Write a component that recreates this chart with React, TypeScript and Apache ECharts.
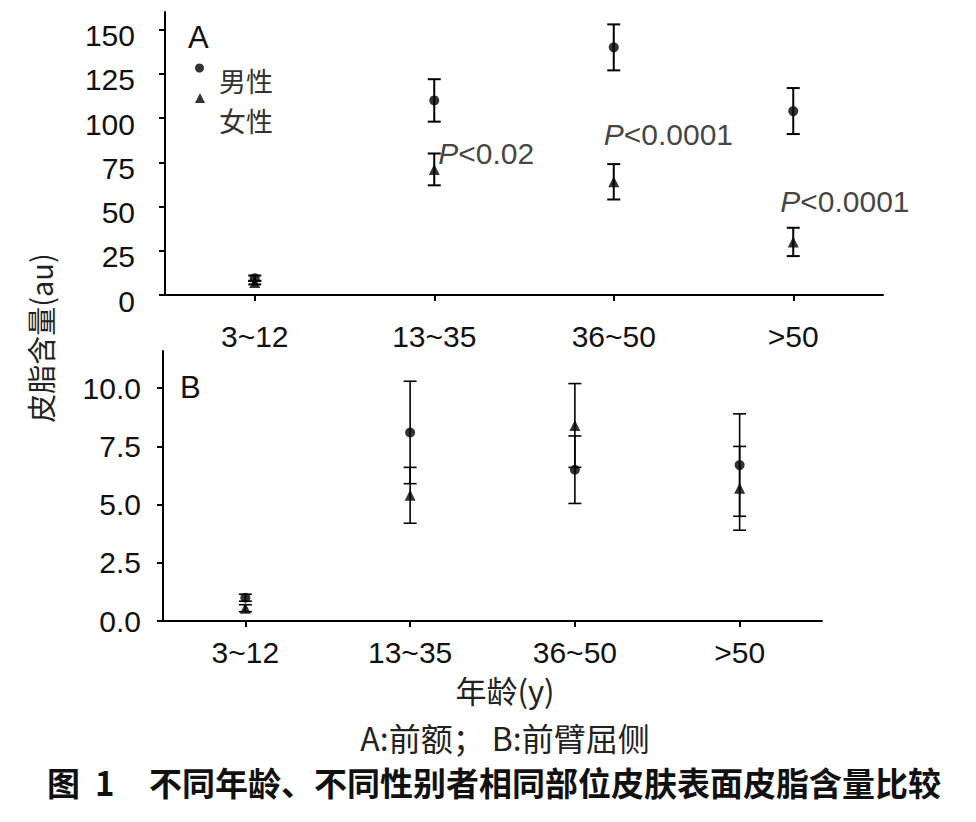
import React, { useEffect, useRef } from "react";
import * as echarts from "echarts";

// ---- data ----
const categories = ["3~12", "13~35", "36~50", ">50"];

// Panel A: 前额 (forehead)
const foreheadMaleMean = [9.5, 110, 140, 104];
const foreheadMaleSD = [1.5, 12, 13, 13];
const foreheadFemaleMean = [7, 71, 64, 30];
const foreheadFemaleSD = [1, 9, 10, 8];

// Panel B: 前臂屈侧 (forearm)
const forearmMaleMean = [1.0, 8.1, 6.5, 6.7];
const forearmMaleSD = [0.15, 2.2, 1.45, 2.2];
const forearmFemaleMean = [0.55, 5.4, 8.4, 5.7];
const forearmFemaleSD = [0.15, 1.2, 1.8, 1.8];

const yTicksA = [0, 25, 50, 75, 100, 125, 150];
const yTicksB = [0, 2.5, 5, 7.5, 10];

// P-value annotations (panel A)
const pCategories = ["13~35", "36~50", ">50"];
const pValues = [80, 91, 53];
const pTexts = ["<0.02", "<0.0001", "<0.0001"];

const seriesNames = ["男性", "女性"];

// ---- styles ----
const LATIN = "'Liberation Sans', Arial, Helvetica, sans-serif";
const CJK = "'Noto Sans CJK SC', 'Noto Sans', sans-serif";
const pLabelOffsets = [4, -10, -13];

function errorData(mean: number[], sd: number[]) {
  return mean.map((m, i) => [i, m - sd[i], m + sd[i]]);
}

function errorSeries(mean: number[], sd: number[], idx: number, capW: number, lw: number) {
  return {
    type: "custom",
    xAxisIndex: idx,
    yAxisIndex: idx,
    silent: true,
    z: 1,
    encode: { x: 0, y: [1, 2] },
    data: errorData(mean, sd),
    renderItem: (_params: any, api: any) => {
      const x = api.value(0);
      const top = api.coord([x, api.value(2)]);
      const bot = api.coord([x, api.value(1)]);
      const h = capW / 2;
      const style = { stroke: "#000", lineWidth: lw };
      return {
        type: "group",
        children: [
          { type: "line", shape: { x1: top[0], y1: top[1], x2: bot[0], y2: bot[1] }, style },
          { type: "line", shape: { x1: top[0] - h, y1: top[1], x2: top[0] + h, y2: top[1] }, style },
          { type: "line", shape: { x1: bot[0] - h, y1: bot[1], x2: bot[0] + h, y2: bot[1] }, style },
        ],
      };
    },
  };
}

function pointSeries(name: string, mean: number[], idx: number, symbol: string, size: number) {
  return {
    name,
    type: "scatter",
    xAxisIndex: idx,
    yAxisIndex: idx,
    symbol,
    symbolSize: size,
    z: 3,
    itemStyle: { color: "#000" },
    data: mean.map((m, i) => [i, m]),
  };
}

// legend markers (icons only); the legend words are placed as separate texts
function legendFor(name: string, icon: string, size: number, top: number) {
  return {
    data: [{ name, icon }],
    left: 195,
    top,
    padding: 0,
    itemWidth: size,
    itemHeight: size,
    itemGap: 0,
    selectedMode: false,
    formatter: () => "",
    textStyle: { fontSize: 1 },
  };
}

export default function App() {
  const ref = useRef<HTMLDivElement>(null);

  useEffect(() => {
    if (!ref.current) return;
    const chart = echarts.init(ref.current, undefined, { renderer: "svg" });

    const axisLine = { show: true, lineStyle: { color: "#000", width: 2 } };
    const tick = { show: true, length: 6, lineStyle: { color: "#000", width: 2 } };

    const xAxisCommon = (margin: number) => ({
      type: "category",
      data: categories,
      boundaryGap: true,
      axisLine,
      axisTick: { ...tick, alignWithLabel: true },
      axisLabel: { color: "#111", fontFamily: LATIN, fontSize: 30, margin },
      splitLine: { show: false },
    });

    const legendText = (text: string, y: number) => ({
      type: "text",
      x: 219,
      y,
      style: {
        text,
        fontFamily: CJK,
        fontSize: 27,
        lineHeight: 27,
        fill: "#333",
        align: "left",
        verticalAlign: "middle",
      },
    });

    const option: any = {
      animation: false,
      backgroundColor: "#fff",
      grid: [
        { left: 165, top: 12, width: 718, height: 283 },
        { left: 163, top: 351, width: 659, height: 270 },
      ],
      xAxis: [
        { ...xAxisCommon(26), gridIndex: 0 },
        { ...xAxisCommon(16), gridIndex: 1 },
      ],
      yAxis: [
        {
          type: "value",
          gridIndex: 0,
          min: 0,
          max: 160,
          axisLine,
          axisTick: { ...tick, customValues: yTicksA },
          axisLabel: {
            customValues: yTicksA,
            margin: 30,
            formatter: (v: number) => `{a|${v}}`,
            rich: {
              a: {
                color: "#111",
                fontFamily: LATIN,
                fontSize: 30,
                padding: [12, 0, 0, 0],
              },
            },
          },
          splitLine: { show: false },
        },
        {
          type: "value",
          gridIndex: 1,
          min: 0,
          max: 11.6,
          axisLine,
          axisTick: { ...tick, customValues: yTicksB },
          axisLabel: {
            customValues: yTicksB,
            color: "#111",
            fontFamily: LATIN,
            fontSize: 30,
            margin: 22,
            formatter: (v: number) => v.toFixed(1),
          },
          splitLine: { show: false },
        },
      ],
      legend: [
        legendFor(seriesNames[0], "circle", 9, 63.5),
        legendFor(seriesNames[1], "triangle", 10, 93),
      ],
      series: [
        errorSeries(foreheadMaleMean, foreheadMaleSD, 0, 13, 2),
        errorSeries(foreheadFemaleMean, foreheadFemaleSD, 0, 13, 2),
        pointSeries(seriesNames[0], foreheadMaleMean, 0, "circle", 10),
        pointSeries(seriesNames[1], foreheadFemaleMean, 0, "triangle", 11),
        errorSeries(forearmMaleMean, forearmMaleSD, 1, 13, 1.6),
        errorSeries(forearmFemaleMean, forearmFemaleSD, 1, 13, 1.6),
        pointSeries(seriesNames[0], forearmMaleMean, 1, "circle", 10),
        pointSeries(seriesNames[1], forearmFemaleMean, 1, "triangle", 11),
        {
          type: "scatter",
          xAxisIndex: 0,
          yAxisIndex: 0,
          symbolSize: 0,
          silent: true,
          data: pCategories.map((c, i) => ({
            value: [categories.indexOf(c), pValues[i]],
            label: {
              show: true,
              position: "right",
              distance: 0,
              offset: [pLabelOffsets[i], 0],
              formatter: `{i|P}{t|${pTexts[i]}}`,
              rich: {
                i: { fontFamily: LATIN, fontSize: 30, fontStyle: "italic", color: "#111" },
                t: { fontFamily: LATIN, fontSize: 30, color: "#111" },
              },
            },
          })),
        },
      ],
      graphic: [
        legendText(seriesNames[0], 80),
        legendText(seriesNames[1], 120),
        {
          type: "text",
          left: 188,
          top: 22,
          style: { text: "A", fontFamily: LATIN, fontSize: 31, fill: "#111" },
        },
        {
          type: "text",
          left: 180,
          top: 372,
          style: { text: "B", fontFamily: LATIN, fontSize: 31, fill: "#111" },
        },
        {
          type: "text",
          x: 40,
          y: 338,
          rotation: Math.PI / 2,
          style: {
            text: "皮脂含量(au)",
            fontFamily: CJK,
            fontSize: 29,
            fill: "#222",
            align: "center",
            verticalAlign: "middle",
          },
        },
        {
          type: "text",
          x: 505,
          y: 689,
          style: {
            text: "年龄(y)",
            fontFamily: CJK,
            fontSize: 31,
            fill: "#222",
            align: "center",
            verticalAlign: "middle",
          },
        },
        {
          type: "text",
          x: 505,
          y: 737,
          style: {
            text: "A:前额； B:前臂屈侧",
            fontFamily: CJK,
            fontSize: 32,
            fill: "#222",
            align: "center",
            verticalAlign: "middle",
          },
        },
        {
          type: "text",
          x: 47,
          y: 782,
          style: {
            text: "图  1",
            fontFamily: CJK,
            fontSize: 33,
            fontWeight: "bold",
            fill: "#111",
            align: "left",
            verticalAlign: "middle",
          },
        },
        {
          type: "text",
          x: 149,
          y: 782,
          style: {
            text: "不同年龄、不同性别者相同部位皮肤表面皮脂含量比较",
            fontFamily: CJK,
            fontSize: 33,
            fontWeight: "bold",
            fill: "#111",
            align: "left",
            verticalAlign: "middle",
          },
        },
      ],
    };

    chart.setOption(option);
    return () => chart.dispose();
  }, []);

  return (
    <div
      ref={ref}
      style={{ position: "fixed", left: 0, top: 0, width: 976, height: 822, background: "#fff" }}
    />
  );
}
